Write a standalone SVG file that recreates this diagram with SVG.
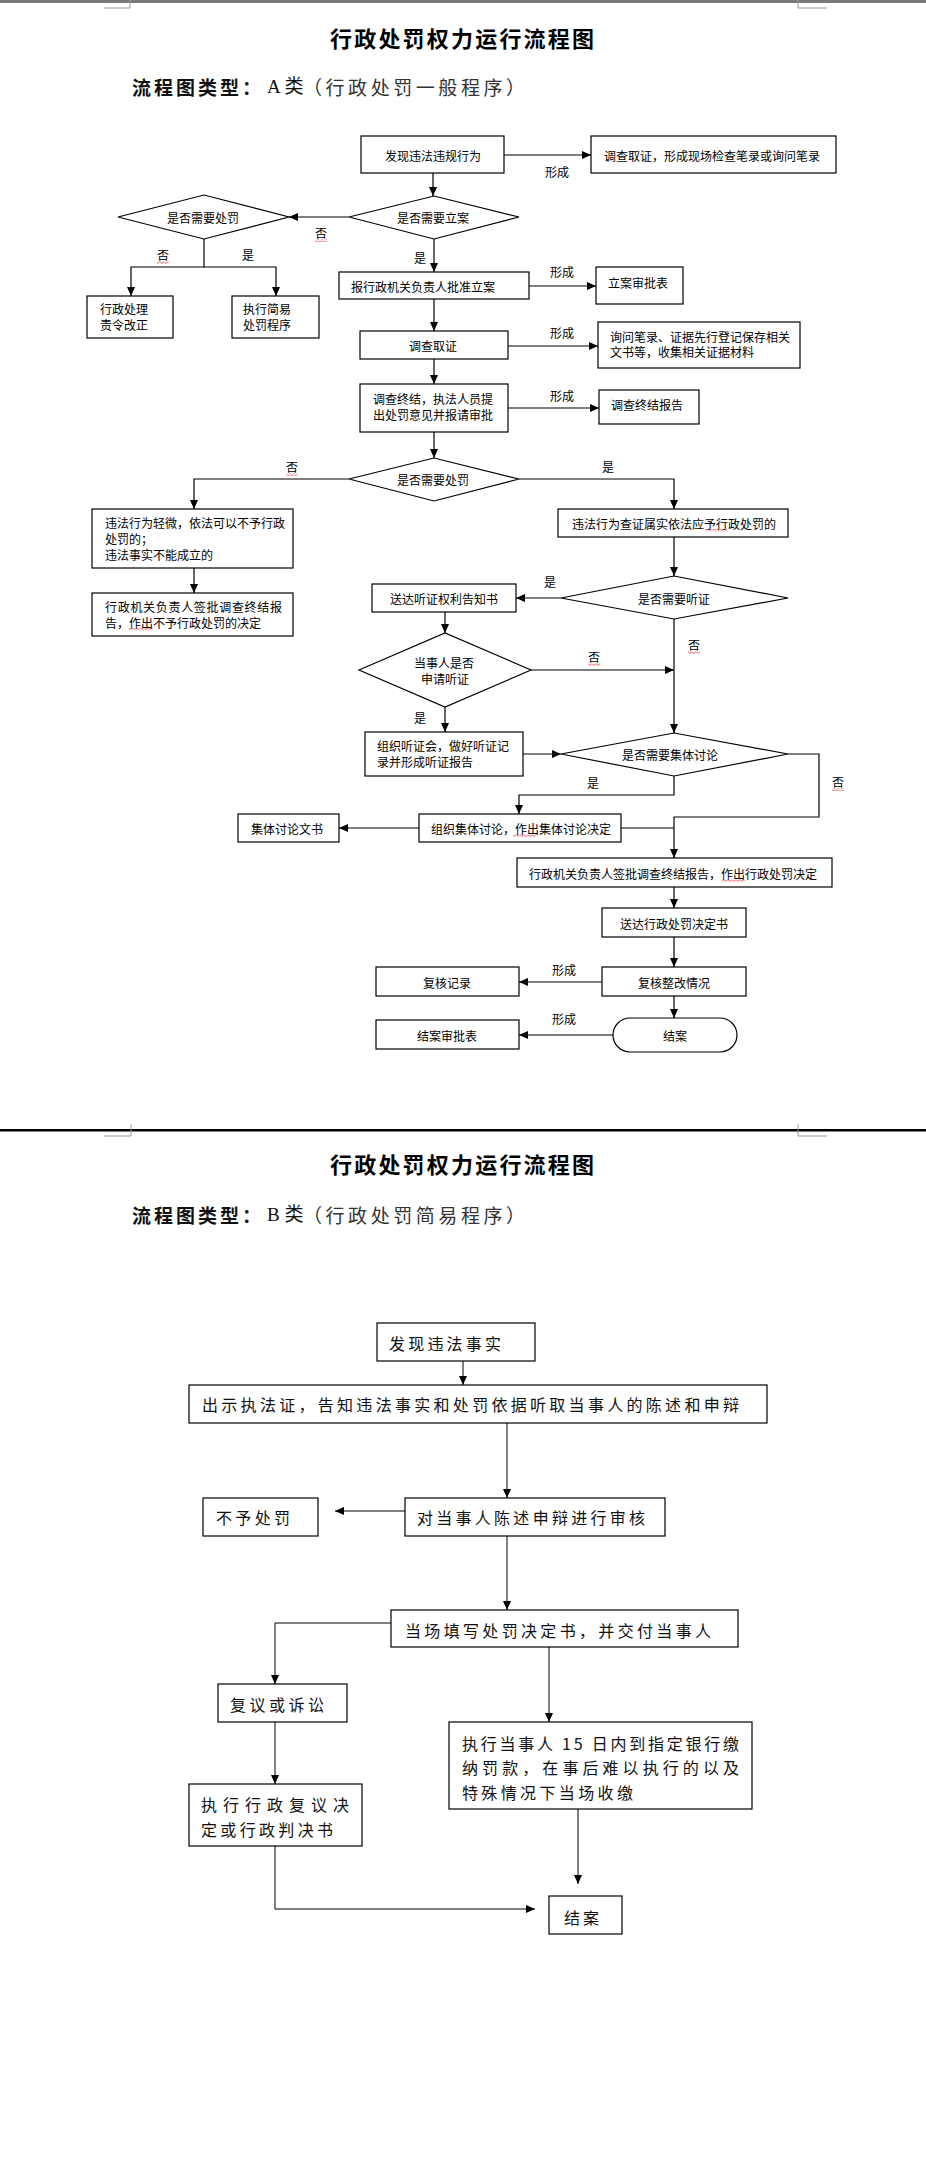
<svg xmlns="http://www.w3.org/2000/svg" width="926" height="2179" viewBox="0 0 926 2179">
<style>
.box{fill:#fff;stroke:#000;stroke-width:1.2}
.t{font-family:"Noto Sans CJK SC","Noto Sans CJK JP",sans-serif;font-size:12px;fill:#000;dominant-baseline:central}
.c{text-anchor:middle}
.b{font-family:"Noto Sans CJK SC","Noto Sans CJK JP",sans-serif;font-size:16px;fill:#111;dominant-baseline:central}
.ttl{font-family:"Noto Sans CJK SC","Noto Sans CJK JP",sans-serif;font-size:22px;fill:#000;dominant-baseline:central;font-weight:bold}
.hd{font-family:"Liberation Serif","Noto Sans CJK SC",serif;font-size:19px;fill:#111;dominant-baseline:central}
.ln{fill:none;stroke:#000;stroke-width:1.2}
.lb{fill:none;stroke:#000;stroke-width:1}
.arr{marker-end:url(#ah)}
.mark{fill:none;stroke:#999;stroke-width:1}
.sq{fill:url(#wave)}
</style>
<defs>
<marker id="ah" markerUnits="userSpaceOnUse" markerWidth="10" markerHeight="9" refX="9" refY="4" orient="auto">
<path d="M0,0 L9,4 L0,8 z" fill="#000"/>
</marker>
<pattern id="wave" patternUnits="userSpaceOnUse" width="4" height="3">
<path d="M0 0.5 L2 2.5 L4 0.5" fill="none" stroke="#e02020" stroke-width="0.8"/>
</pattern>
</defs>
<rect width="926" height="2179" fill="#fff"/>

<!-- page decorations -->
<g id="page">
<rect x="0" y="0" width="926" height="3" fill="#7a7a7a"/>
<path class="mark" d="M104 8 H130 V0"/>
<path class="mark" d="M827 8 H798 V0"/>
<rect x="0" y="1129" width="926" height="2.5" fill="#000"/>
<path class="mark" d="M104 1136 H131 V1124"/>
<path class="mark" d="M827 1136 H798 V1124"/>
</g>

<!-- headings -->
<g id="headingA">
<text class="ttl" x="330" y="37" textLength="264" lengthAdjust="spacing">行政处罚权力运行流程图</text>
<text class="hd" x="132" y="86" font-weight="bold" textLength="129" lengthAdjust="spacing" style="font-family:'Noto Sans CJK SC',sans-serif">流程图类型：</text>
<text class="hd" x="267" y="86">A 类</text>
<text class="hd" x="303" y="86" textLength="222" lengthAdjust="spacing" style="font-family:'Noto Sans CJK SC',sans-serif;fill:#333">（行政处罚一般程序）</text>
</g>

<g id="connectorsA">
<path class="ln arr" d="M433 173 V196"/>
<path class="ln arr" d="M504 155 H591"/>
<path class="ln arr" d="M349 217 H289"/>
<path class="ln arr" d="M204 239 V267 H131 V296"/>
<path class="ln arr" d="M204 267 H276 V296"/>
<path class="ln arr" d="M434 239 V272"/>
<path class="ln arr" d="M529 286 H596"/>
<path class="ln arr" d="M434 299 V331"/>
<path class="ln arr" d="M508 346 H598"/>
<path class="ln arr" d="M434 359 V384"/>
<path class="ln arr" d="M508 408 H599"/>
<path class="ln arr" d="M434 432 V458"/>
<path class="ln arr" d="M349 479 H194 V509"/>
<path class="ln arr" d="M519 479 H674 V509"/>
<path class="ln arr" d="M194 568 V593"/>
<path class="ln arr" d="M674 537 V576"/>
<path class="ln arr" d="M561 598 H516"/>
<path class="ln arr" d="M445 612 V633"/>
<path class="ln arr" d="M445 707 V732"/>
<path class="ln arr" d="M531 670 H674"/>
<path class="ln arr" d="M674 619 V733"/>
<path class="ln arr" d="M523 754 H561"/>
<path class="ln arr" d="M674 776 V795 H519 V814"/>
<path class="ln arr" d="M788 754 H819 V817 H674 V858"/>
<path class="ln" d="M621 828 H674"/>
<path class="ln arr" d="M419 828 H339"/>
<path class="ln arr" d="M674 887 V908"/>
<path class="ln arr" d="M674 937 V967"/>
<path class="ln arr" d="M602 982 H519"/>
<path class="ln arr" d="M674 996 V1018"/>
<path class="ln arr" d="M613 1035 H519"/>
<text class="t c" x="557" y="171">形成</text>
<text class="t c" x="562" y="271">形成</text>
<text class="t c" x="562" y="332">形成</text>
<text class="t c" x="562" y="395">形成</text>
<text class="t c" x="321" y="232">否</text>
<rect class="sq" x="315" y="239" width="12" height="3"/>
<text class="t c" x="163" y="254">否</text>
<rect class="sq" x="157" y="261" width="12" height="3"/>
<text class="t c" x="248" y="254">是</text>
<text class="t c" x="420" y="257">是</text>
<text class="t c" x="292" y="466">否</text>
<rect class="sq" x="286" y="473" width="12" height="3"/>
<text class="t c" x="608" y="466">是</text>
<text class="t c" x="550" y="581">是</text>
<text class="t c" x="694" y="644">否</text>
<rect class="sq" x="688" y="651" width="12" height="3"/>
<text class="t c" x="594" y="656">否</text>
<rect class="sq" x="588" y="663" width="12" height="3"/>
<text class="t c" x="420" y="717">是</text>
<text class="t c" x="593" y="782">是</text>
<text class="t c" x="838" y="781">否</text>
<rect class="sq" x="832" y="788" width="12" height="3"/>
<text class="t c" x="564" y="969">形成</text>
<text class="t c" x="564" y="1018">形成</text>
</g>

<g id="n-faxian"><rect class="box" x="361" y="136" width="143" height="37"/><text class="t c" x="433" y="155">发现违法违规行为</text></g>
<g id="n-diaocha1"><rect class="box" x="591" y="136" width="245" height="37"/><text class="t" x="604" y="155">调查取证，形成现场检查笔录或询问笔录</text></g>
<g id="n-lian-q"><polygon class="box" points="349,217 434,196 519,217 434,239"/><text class="t c" x="433" y="217">是否需要立案</text></g>
<g id="n-chufa-q1"><polygon class="box" points="118,217 204,195 289,217 204,239"/><text class="t c" x="203" y="217">是否需要处罚</text></g>
<g id="n-zeling"><rect class="box" x="87" y="296" width="86" height="42"/><text class="t" x="100" y="308">行政处理</text><text class="t" x="100" y="324">责令改正</text></g>
<g id="n-jianyi"><rect class="box" x="232" y="296" width="87" height="42"/><text class="t" x="243" y="308">执行简易</text><text class="t" x="243" y="324">处罚程序</text></g>
<g id="n-pizhun"><rect class="box" x="339" y="272" width="190" height="27"/><text class="t" x="351" y="286">报行政机关负责人批准立案</text></g>
<g id="n-lianbiao"><rect class="box" x="596" y="267" width="87" height="37"/><text class="t" x="608" y="282">立案审批表</text></g>
<g id="n-quzheng"><rect class="box" x="360" y="331" width="148" height="28"/><text class="t c" x="433" y="345">调查取证</text></g>
<g id="n-xunwen"><rect class="box" x="598" y="322" width="202" height="46"/><text class="t" x="610" y="336">询问笔录、证据先行登记保存相关</text><text class="t" x="610" y="351">文书等，收集相关证据材料</text></g>
<g id="n-zhongjie"><rect class="box" x="360" y="384" width="148" height="48"/><text class="t" x="373" y="398">调查终结，执法人员提</text><text class="t" x="373" y="414">出处罚意见并报请审批</text></g>
<g id="n-zjbaogao"><rect class="box" x="599" y="390" width="100" height="34"/><text class="t" x="611" y="404">调查终结报告</text></g>
<g id="n-chufa-q2"><polygon class="box" points="349,479 434,458 519,479 434,501"/><text class="t c" x="433" y="479">是否需要处罚</text></g>
<g id="n-qingwei"><rect class="box" x="92" y="509" width="201" height="59"/><text class="t" x="105" y="522">违法行为轻微，依法可以不予行政</text><text class="t" x="105" y="538">处罚的；</text><text class="t" x="105" y="554">违法事实不能成立的</text></g>
<g id="n-buyu"><rect class="box" x="92" y="593" width="201" height="43"/><text class="t" x="105" y="606" textLength="177" lengthAdjust="spacing">行政机关负责人签批调查终结报</text><text class="t" x="105" y="622">告，作出不予行政处罚的决定</text><rect class="sq" x="129" y="628" width="24" height="3"/></g>
<g id="n-shishu"><rect class="box" x="558" y="509" width="230" height="28"/><text class="t c" x="674" y="523">违法行为查证属实依法应予行政处罚的</text><rect class="sq" x="705" y="529" width="22" height="3"/></g>
<g id="n-tingzheng-q"><polygon class="box" points="561,598 674,576 788,598 674,619"/><text class="t c" x="674" y="598">是否需要听证</text></g>
<g id="n-gaozhi"><rect class="box" x="372" y="584" width="144" height="28"/><text class="t c" x="444" y="598">送达听证权利告知书</text></g>
<g id="n-dangshi-q"><polygon class="box" points="359,670 445,633 531,670 445,707"/><text class="t c" x="444" y="662">当事人是否</text><text class="t c" x="445" y="678">申请听证</text></g>
<g id="n-tingzhenghui"><rect class="box" x="365" y="732" width="158" height="44"/><text class="t" x="377" y="745">组织听证会，做好听证记</text><text class="t" x="377" y="761">录并形成听证报告</text></g>
<g id="n-jiti-q"><polygon class="box" points="561,754 674,733 788,754 674,776"/><text class="t c" x="670" y="754">是否需要集体讨论</text></g>
<g id="n-jititaolun"><rect class="box" x="419" y="814" width="202" height="28"/><text class="t" x="431" y="828">组织集体讨论，作出集体讨论决定</text><rect class="sq" x="513" y="834" width="23" height="3"/></g>
<g id="n-jitiwenshu"><rect class="box" x="238" y="814" width="101" height="28"/><text class="t" x="251" y="828">集体讨论文书</text></g>
<g id="n-jueding"><rect class="box" x="517" y="858" width="315" height="29"/><text class="t c" x="673" y="873">行政机关负责人签批调查终结报告，作出行政处罚决定</text><rect class="sq" x="722" y="879" width="23" height="3"/></g>
<g id="n-songda"><rect class="box" x="602" y="908" width="144" height="29"/><text class="t c" x="674" y="923">送达行政处罚决定书</text></g>
<g id="n-fuhe"><rect class="box" x="602" y="967" width="144" height="29"/><text class="t c" x="674" y="982">复核整改情况</text></g>
<g id="n-fuhejilu"><rect class="box" x="376" y="967" width="143" height="29"/><text class="t c" x="447" y="982">复核记录</text></g>
<g id="n-jiean"><rect class="box" x="613" y="1018" width="124" height="34" rx="17" ry="17"/><text class="t c" x="675" y="1035">结案</text></g>
<g id="n-jieanbiao"><rect class="box" x="376" y="1020" width="143" height="29"/><text class="t c" x="447" y="1035">结案审批表</text></g>

<!-- B section -->
<g id="headingB">
<text class="ttl" x="330" y="1163" textLength="264" lengthAdjust="spacing">行政处罚权力运行流程图</text>
<text class="hd" x="132" y="1214" font-weight="bold" textLength="129" lengthAdjust="spacing" style="font-family:'Noto Sans CJK SC',sans-serif">流程图类型：</text>
<text class="hd" x="267" y="1214">B 类</text>
<text class="hd" x="303" y="1214" textLength="222" lengthAdjust="spacing" style="font-family:'Noto Sans CJK SC',sans-serif;fill:#333">（行政处罚简易程序）</text>
</g>

<g id="connectorsB">
<path class="lb arr" d="M463 1361 V1385"/>
<path class="lb arr" d="M507 1423 V1498"/>
<path class="lb arr" d="M405 1511 H335"/>
<path class="lb arr" d="M507 1536 V1610"/>
<path class="lb arr" d="M391 1623 H275 V1684"/>
<path class="lb arr" d="M549 1647 V1722"/>
<path class="lb arr" d="M275 1722 V1784"/>
<path class="lb arr" d="M275 1846 V1909 H535"/>
<path class="lb arr" d="M578 1809 V1884"/>
</g>

<g id="b-faxian"><rect class="box" x="377" y="1323" width="158" height="38"/><text class="b" x="389" y="1343" textLength="112" lengthAdjust="spacing">发现违法事实</text></g>
<g id="b-chushi"><rect class="box" x="189" y="1385" width="578" height="38"/><text class="b" x="202" y="1404" textLength="537" lengthAdjust="spacing">出示执法证，告知违法事实和处罚依据听取当事人的陈述和申辩</text></g>
<g id="b-shenhe"><rect class="box" x="405" y="1498" width="260" height="38"/><text class="b" x="417" y="1517" textLength="228" lengthAdjust="spacing">对当事人陈述申辩进行审核</text></g>
<g id="b-buyu"><rect class="box" x="203" y="1498" width="115" height="38"/><text class="b" x="216" y="1517" textLength="74" lengthAdjust="spacing">不予处罚</text></g>
<g id="b-dangchang"><rect class="box" x="391" y="1610" width="347" height="37"/><text class="b" x="405" y="1630" textLength="306" lengthAdjust="spacing">当场填写处罚决定书，并交付当事人</text></g>
<g id="b-fuyi"><rect class="box" x="218" y="1684" width="129" height="38"/><text class="b" x="230" y="1704" textLength="94" lengthAdjust="spacing">复议或诉讼</text></g>
<g id="b-zhixing"><rect class="box" x="449" y="1722" width="303" height="87"/><text class="b" x="462" y="1743" textLength="277" lengthAdjust="spacing">执行当事人 15 日内到指定银行缴</text><text class="b" x="462" y="1767" textLength="277" lengthAdjust="spacing">纳罚款，在事后难以执行的以及</text><text class="b" x="462" y="1792" textLength="171" lengthAdjust="spacing">特殊情况下当场收缴</text></g>
<g id="b-fuyijueding"><rect class="box" x="189" y="1784" width="173" height="62"/><text class="b" x="201" y="1804" textLength="148" lengthAdjust="spacing">执行行政复议决</text><text class="b" x="201" y="1829" textLength="132" lengthAdjust="spacing">定或行政判决书</text></g>
<g id="b-jiean"><rect class="box" x="549" y="1896" width="73" height="38"/><text class="b" x="564" y="1917" textLength="35" lengthAdjust="spacing">结案</text></g>
</svg>
